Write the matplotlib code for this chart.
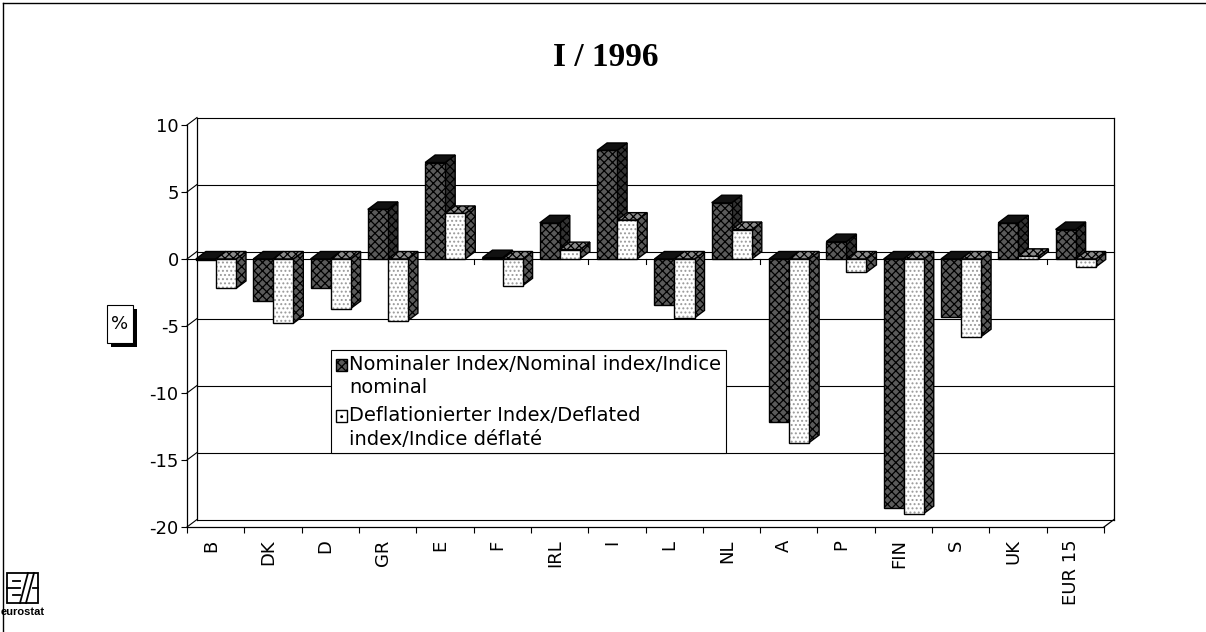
import matplotlib
matplotlib.use("Agg")
import matplotlib.pyplot as plt
from matplotlib.patches import Polygon, Rectangle
from matplotlib.lines import Line2D
from matplotlib.legend_handler import HandlerPatch

# ---------------- data ----------------
categories = ["B", "DK", "D", "GR", "E", "F", "IRL", "I", "L", "NL",
              "A", "P", "FIN", "S", "UK", "EUR 15"]
nominal = [-0.1, -3.1, -2.2, 3.7, 7.2, 0.1, 2.7, 8.1, -3.4, 4.2,
           -12.2, 1.3, -18.6, -4.3, 2.7, 2.2]
deflated = [-2.2, -4.8, -3.7, -4.6, 3.4, -2.0, 0.7, 2.9, -4.4, 2.2,
            -13.7, -1.0, -19.0, -5.8, 0.2, -0.6]
yticks = [10, 5, 0, -5, -10, -15, -20]
title = "I / 1996"
legend_labels = ["Nominaler Index/Nominal index/Indice\nnominal",
                 "Deflationierter Index/Deflated\nindex/Indice déflaté"]

plt.rcParams["font.family"] = ["DejaVu Sans"]
plt.rcParams["hatch.linewidth"] = 0.9
FS = 13

W, H = 1206, 632
fig = plt.figure(figsize=(W / 100, H / 100), dpi=100)

# axes = front plane of the 3-D box (pixels)
L, R, T, B = 187, 1104, 125, 527
ax = fig.add_axes([L / W, 1 - B / H, (R - L) / W, (B - T) / H])
n = len(categories)
ax.set_xlim(0, n)
ax.set_ylim(-20, 10)
ax.patch.set_visible(False)

px_x = (R - L) / n
px_y = (B - T) / 30.0
DX = 10 / px_x      # depth offset in data units
DY = 7.5 / px_y

lw = 0.9
# back wall + gridlines
for v in yticks:
    ax.plot([DX, n + DX], [v + DY, v + DY], color="black", lw=0.8, zorder=1, clip_on=False)
    ax.plot([0, DX], [v, v + DY], color="black", lw=0.8, zorder=1, clip_on=False)
ax.plot([DX, DX], [-20 + DY, 10 + DY], color="black", lw=lw, zorder=1, clip_on=False)
ax.plot([n + DX, n + DX], [-20 + DY, 10 + DY], color="black", lw=lw, zorder=1, clip_on=False)
ax.plot([n, n + DX], [-20, -20 + DY], color="black", lw=lw, zorder=1, clip_on=False)
# front zero axis with small ticks
ax.plot([0, n], [0, 0], color="black", lw=0.8, zorder=1.5)
for k in range(1, n):
    ax.plot([k, k], [0, -0.37], color="black", lw=0.8, zorder=1.5)

# bars
bw = 0.35
off = 0.155
xs_nom = [i + off for i in range(n)]
xs_def = [i + off + bw for i in range(n)]
bars_nom = ax.bar(xs_nom, nominal, width=bw, align="edge", facecolor="#5a5a5a",
                  edgecolor="black", hatch="xxxx", linewidth=1.0)
# deflated: light grey dotted fill, then black outline
bars_def = ax.bar(xs_def, deflated, width=bw, align="edge", facecolor="white",
                  edgecolor="#9a9a9a", hatch="....", linewidth=0)
bars_def_edge = ax.bar(xs_def, deflated, width=bw, align="edge", facecolor="none",
                       edgecolor="black", linewidth=1.0)

def faces(x0, v, zbase, top_fc, top_hatch, side_fc, side_hatch):
    x1 = x0 + bw
    yt = max(v, 0)
    yb = min(v, 0)
    side = Polygon([(x1, yb), (x1, yt), (x1 + DX, yt + DY), (x1 + DX, yb + DY)],
                   closed=True, facecolor=side_fc, edgecolor="black",
                   hatch=side_hatch, lw=1.0, zorder=zbase, clip_on=False)
    top = Polygon([(x0, yt), (x0 + DX, yt + DY), (x1 + DX, yt + DY), (x1, yt)],
                  closed=True, facecolor=top_fc, edgecolor="black",
                  hatch=top_hatch, lw=1.0, zorder=zbase + 0.1, clip_on=False)
    ax.add_patch(side)
    ax.add_patch(top)

for i in range(n):
    z = 3 + i * 2
    faces(xs_nom[i], nominal[i], z, "#111111", None, "#333333", "xxxx")
    bars_nom[i].set_zorder(z + 0.2)
    faces(xs_def[i], deflated[i], z + 1, "#8a8a8a", "xxxx", "#5a5a5a", "xxxx")
    bars_def[i].set_zorder(z + 1.2)
    bars_def_edge[i].set_zorder(z + 1.3)

# axes styling
for s in ["top", "right"]:
    ax.spines[s].set_visible(False)
ax.spines["left"].set_linewidth(lw)
ax.spines["bottom"].set_linewidth(lw)
ax.set_yticks(yticks)
ax.set_yticklabels([str(v) for v in yticks], fontsize=FS)
ax.tick_params(axis="y", length=4, width=0.8, direction="out", pad=2)
ax.set_xticks(range(n + 1))
ax.set_xticklabels([""] * (n + 1))
ax.tick_params(axis="x", which="major", length=4, width=0.8, direction="out")
ax.set_xticks([i + 0.42 for i in range(n)], minor=True)
ax.set_xticklabels(categories, minor=True, rotation=90, fontsize=FS, va="top")
ax.tick_params(axis="x", which="minor", length=0, pad=9)

# legend (markers aligned with the first text line)
LFS = 14
def first_line_patch(legend, orig_handle, xdescent, ydescent, width, height, fontsize):
    return Rectangle((-xdescent, -ydescent + 0.62 * fontsize), width, height)

hm = {Rectangle: HandlerPatch(patch_func=first_line_patch)}
def_proxy = Rectangle((0, 0), 1, 1, facecolor="white", edgecolor="black",
                      hatch="..", linewidth=1.0)
leg = ax.legend([bars_nom[0], def_proxy], legend_labels, loc="upper left",
                bbox_to_anchor=(331 / W, 1 - 350 / H), bbox_transform=fig.transFigure,
                fontsize=LFS, frameon=True, fancybox=False, framealpha=1,
                edgecolor="black", handlelength=0.55, handleheight=0.55,
                handletextpad=0.15, labelspacing=0.45, borderpad=0.25,
                borderaxespad=0, handler_map=hm)
leg.get_frame().set_linewidth(0.8)
for t in leg.get_texts():
    t.set_linespacing(1.3)
leg.set_zorder(100)

# title
fig.text(606 / W, 1 - 57 / H, title, ha="center", va="center", fontsize=24,
         fontweight="bold", family=["Liberation Serif", "DejaVu Serif"])

# % box with shadow
def fr(x0, y0, x1, y1, **kw):
    return Rectangle((x0 / W, 1 - y1 / H), (x1 - x0) / W, (y1 - y0) / H,
                     transform=fig.transFigure, **kw)
fig.add_artist(fr(111, 309, 137, 347, facecolor="black", edgecolor="black", lw=0))
fig.add_artist(fr(107, 305, 133, 343, facecolor="white", edgecolor="black", lw=0.8))
fig.text(120 / W, 1 - 324 / H, "%", ha="center", va="center", fontsize=FS)

# outer frame (top and left)
fig.add_artist(Line2D([3 / W, 1], [1 - 3 / H, 1 - 3 / H], transform=fig.transFigure,
                      color="black", lw=1.0))
fig.add_artist(Line2D([3 / W, 3 / W], [0, 1 - 3 / H], transform=fig.transFigure,
                      color="black", lw=1.0))

# eurostat logo
fig.add_artist(fr(7, 573, 38, 603, facecolor="white", edgecolor="black", lw=1.3))
def fl(xa, ya, xb, yb, lwid=1.3):
    fig.add_artist(Line2D([xa / W, xb / W], [1 - ya / H, 1 - yb / H],
                          transform=fig.transFigure, color="black", lw=lwid))
fl(7, 588, 20, 588)
fl(13, 581, 20, 581)
fl(13, 595, 20, 595)
fl(20, 603, 28, 573)
fl(26, 603, 34, 573)
fl(33, 588, 38, 588)
fig.text(22.5 / W, 1 - 612 / H, "eurostat", ha="center", va="center", fontsize=8,
         fontweight="bold", family=["Liberation Sans", "DejaVu Sans"])

fig.savefig("out.png", dpi=100)
